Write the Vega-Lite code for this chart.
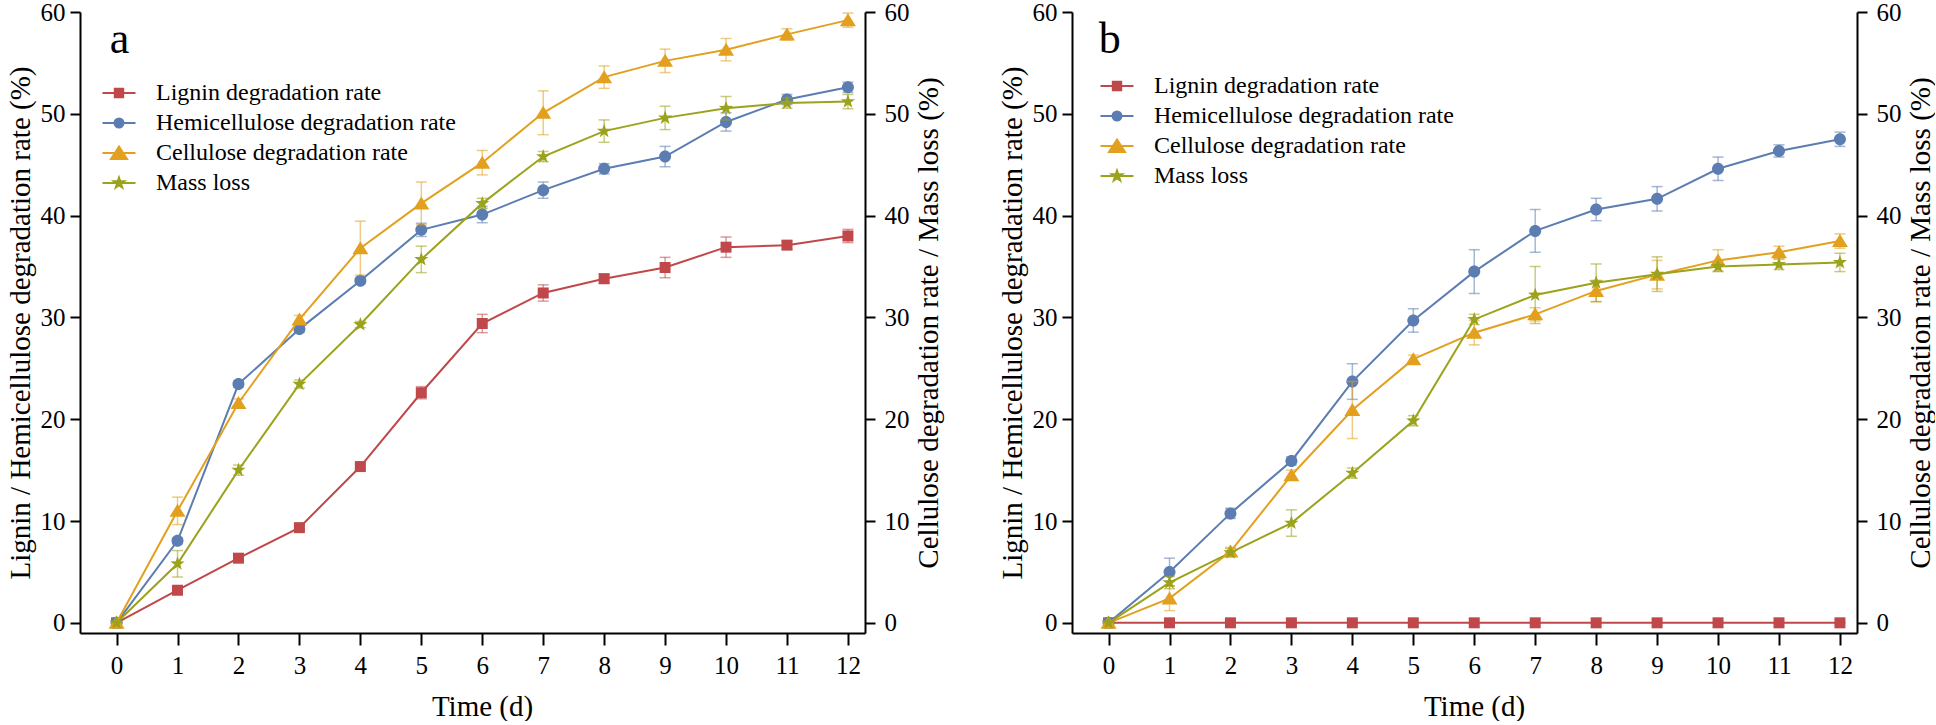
{
  "$schema": "https://vega.github.io/schema/vega-lite/v6.json",
  "autosize": {"type": "pad"},
  "padding": {"left": 6, "top": 0, "right": 0, "bottom": 0},
  "background": "white",
  "config": {
    "font": "Liberation Serif",
    "view": {"stroke": null},
    "axis": {"domainColor": "black", "domainWidth": 2, "tickColor": "black", "tickWidth": 2, "labelFont": "Liberation Serif", "labelFontSize": 25, "labelColor": "black", "titleFont": "Liberation Serif", "titleFontSize": 29, "titleFontWeight": "normal", "titleColor": "black", "grid": false, "labelFlush": false, "labelOverlap": false},
    "legend": {"labelFont": "Liberation Serif"},
    "text": {"font": "Liberation Serif"}
  },
  "datasets": {
    "d": [
      {"p": "a", "l": "a"},
      {"p": "b", "l": "b"},
      {"p": "a", "s": "Lignin degradation rate", "t": 0, "v": 0, "e": 0},
      {"p": "a", "s": "Lignin degradation rate", "t": 1, "v": 3.2, "e": 0.2},
      {"p": "a", "s": "Lignin degradation rate", "t": 2, "v": 6.35, "e": 0.2},
      {"p": "a", "s": "Lignin degradation rate", "t": 3, "v": 9.35, "e": 0.2},
      {"p": "a", "s": "Lignin degradation rate", "t": 4, "v": 15.35, "e": 0.25},
      {"p": "a", "s": "Lignin degradation rate", "t": 5, "v": 22.6, "e": 0.6},
      {"p": "a", "s": "Lignin degradation rate", "t": 6, "v": 29.4, "e": 0.9},
      {"p": "a", "s": "Lignin degradation rate", "t": 7, "v": 32.4, "e": 0.8},
      {"p": "a", "s": "Lignin degradation rate", "t": 8, "v": 33.8, "e": 0.45},
      {"p": "a", "s": "Lignin degradation rate", "t": 9, "v": 34.9, "e": 1.0},
      {"p": "a", "s": "Lignin degradation rate", "t": 10, "v": 36.9, "e": 1.0},
      {"p": "a", "s": "Lignin degradation rate", "t": 11, "v": 37.1, "e": 0.4},
      {"p": "a", "s": "Lignin degradation rate", "t": 12, "v": 38.0, "e": 0.65},
      {"p": "a", "s": "Hemicellulose degradation rate", "t": 0, "v": 0, "e": 0},
      {"p": "a", "s": "Hemicellulose degradation rate", "t": 1, "v": 8.05, "e": 0.3},
      {"p": "a", "s": "Hemicellulose degradation rate", "t": 2, "v": 23.45, "e": 0.3},
      {"p": "a", "s": "Hemicellulose degradation rate", "t": 3, "v": 28.85, "e": 0.3},
      {"p": "a", "s": "Hemicellulose degradation rate", "t": 4, "v": 33.6, "e": 0.3},
      {"p": "a", "s": "Hemicellulose degradation rate", "t": 5, "v": 38.6, "e": 0.65},
      {"p": "a", "s": "Hemicellulose degradation rate", "t": 6, "v": 40.1, "e": 0.8},
      {"p": "a", "s": "Hemicellulose degradation rate", "t": 7, "v": 42.5, "e": 0.8},
      {"p": "a", "s": "Hemicellulose degradation rate", "t": 8, "v": 44.6, "e": 0.5},
      {"p": "a", "s": "Hemicellulose degradation rate", "t": 9, "v": 45.8, "e": 1.0},
      {"p": "a", "s": "Hemicellulose degradation rate", "t": 10, "v": 49.2, "e": 0.9},
      {"p": "a", "s": "Hemicellulose degradation rate", "t": 11, "v": 51.4, "e": 0.5},
      {"p": "a", "s": "Hemicellulose degradation rate", "t": 12, "v": 52.6, "e": 0.5},
      {"p": "a", "s": "Cellulose degradation rate", "t": 0, "v": 0, "e": 0},
      {"p": "a", "s": "Cellulose degradation rate", "t": 1, "v": 11.0, "e": 1.35},
      {"p": "a", "s": "Cellulose degradation rate", "t": 2, "v": 21.6, "e": 0.4},
      {"p": "a", "s": "Cellulose degradation rate", "t": 3, "v": 29.8, "e": 0.4},
      {"p": "a", "s": "Cellulose degradation rate", "t": 4, "v": 36.8, "e": 2.65},
      {"p": "a", "s": "Cellulose degradation rate", "t": 5, "v": 41.2, "e": 2.1},
      {"p": "a", "s": "Cellulose degradation rate", "t": 6, "v": 45.2, "e": 1.2},
      {"p": "a", "s": "Cellulose degradation rate", "t": 7, "v": 50.1, "e": 2.15},
      {"p": "a", "s": "Cellulose degradation rate", "t": 8, "v": 53.6, "e": 1.1},
      {"p": "a", "s": "Cellulose degradation rate", "t": 9, "v": 55.2, "e": 1.15},
      {"p": "a", "s": "Cellulose degradation rate", "t": 10, "v": 56.3, "e": 1.1},
      {"p": "a", "s": "Cellulose degradation rate", "t": 11, "v": 57.8, "e": 0.55},
      {"p": "a", "s": "Cellulose degradation rate", "t": 12, "v": 59.2, "e": 0.7},
      {"p": "a", "s": "Mass loss", "t": 0, "v": 0, "e": 0},
      {"p": "a", "s": "Mass loss", "t": 1, "v": 5.8, "e": 1.3},
      {"p": "a", "s": "Mass loss", "t": 2, "v": 15.0, "e": 0.5},
      {"p": "a", "s": "Mass loss", "t": 3, "v": 23.45, "e": 0.4},
      {"p": "a", "s": "Mass loss", "t": 4, "v": 29.3, "e": 0.3},
      {"p": "a", "s": "Mass loss", "t": 5, "v": 35.7, "e": 1.3},
      {"p": "a", "s": "Mass loss", "t": 6, "v": 41.2, "e": 0.5},
      {"p": "a", "s": "Mass loss", "t": 7, "v": 45.8, "e": 0.5},
      {"p": "a", "s": "Mass loss", "t": 8, "v": 48.3, "e": 1.1},
      {"p": "a", "s": "Mass loss", "t": 9, "v": 49.6, "e": 1.15},
      {"p": "a", "s": "Mass loss", "t": 10, "v": 50.55, "e": 1.15},
      {"p": "a", "s": "Mass loss", "t": 11, "v": 51.05, "e": 0.5},
      {"p": "a", "s": "Mass loss", "t": 12, "v": 51.2, "e": 0.7},
      {"p": "b", "s": "Lignin degradation rate", "t": 0, "v": 0, "e": 0},
      {"p": "b", "s": "Lignin degradation rate", "t": 1, "v": 0, "e": 0},
      {"p": "b", "s": "Lignin degradation rate", "t": 2, "v": 0, "e": 0},
      {"p": "b", "s": "Lignin degradation rate", "t": 3, "v": 0, "e": 0},
      {"p": "b", "s": "Lignin degradation rate", "t": 4, "v": 0, "e": 0},
      {"p": "b", "s": "Lignin degradation rate", "t": 5, "v": 0, "e": 0},
      {"p": "b", "s": "Lignin degradation rate", "t": 6, "v": 0, "e": 0},
      {"p": "b", "s": "Lignin degradation rate", "t": 7, "v": 0, "e": 0},
      {"p": "b", "s": "Lignin degradation rate", "t": 8, "v": 0, "e": 0},
      {"p": "b", "s": "Lignin degradation rate", "t": 9, "v": 0, "e": 0},
      {"p": "b", "s": "Lignin degradation rate", "t": 10, "v": 0, "e": 0},
      {"p": "b", "s": "Lignin degradation rate", "t": 11, "v": 0, "e": 0},
      {"p": "b", "s": "Lignin degradation rate", "t": 12, "v": 0, "e": 0},
      {"p": "b", "s": "Hemicellulose degradation rate", "t": 0, "v": 0, "e": 0},
      {"p": "b", "s": "Hemicellulose degradation rate", "t": 1, "v": 5.0, "e": 1.35},
      {"p": "b", "s": "Hemicellulose degradation rate", "t": 2, "v": 10.75, "e": 0.5},
      {"p": "b", "s": "Hemicellulose degradation rate", "t": 3, "v": 15.9, "e": 0.4},
      {"p": "b", "s": "Hemicellulose degradation rate", "t": 4, "v": 23.7, "e": 1.75},
      {"p": "b", "s": "Hemicellulose degradation rate", "t": 5, "v": 29.7, "e": 1.15},
      {"p": "b", "s": "Hemicellulose degradation rate", "t": 6, "v": 34.5, "e": 2.15},
      {"p": "b", "s": "Hemicellulose degradation rate", "t": 7, "v": 38.5, "e": 2.1},
      {"p": "b", "s": "Hemicellulose degradation rate", "t": 8, "v": 40.6, "e": 1.1},
      {"p": "b", "s": "Hemicellulose degradation rate", "t": 9, "v": 41.65, "e": 1.2},
      {"p": "b", "s": "Hemicellulose degradation rate", "t": 10, "v": 44.6, "e": 1.15},
      {"p": "b", "s": "Hemicellulose degradation rate", "t": 11, "v": 46.35, "e": 0.6},
      {"p": "b", "s": "Hemicellulose degradation rate", "t": 12, "v": 47.5, "e": 0.7},
      {"p": "b", "s": "Cellulose degradation rate", "t": 0, "v": 0, "e": 0},
      {"p": "b", "s": "Cellulose degradation rate", "t": 1, "v": 2.4, "e": 1.2},
      {"p": "b", "s": "Cellulose degradation rate", "t": 2, "v": 7.0, "e": 0.4},
      {"p": "b", "s": "Cellulose degradation rate", "t": 3, "v": 14.5, "e": 0.5},
      {"p": "b", "s": "Cellulose degradation rate", "t": 4, "v": 20.9, "e": 2.8},
      {"p": "b", "s": "Cellulose degradation rate", "t": 5, "v": 25.9, "e": 0.4},
      {"p": "b", "s": "Cellulose degradation rate", "t": 6, "v": 28.5, "e": 1.2},
      {"p": "b", "s": "Cellulose degradation rate", "t": 7, "v": 30.3, "e": 0.65},
      {"p": "b", "s": "Cellulose degradation rate", "t": 8, "v": 32.6, "e": 1.05},
      {"p": "b", "s": "Cellulose degradation rate", "t": 9, "v": 34.2, "e": 1.4},
      {"p": "b", "s": "Cellulose degradation rate", "t": 10, "v": 35.6, "e": 1.05},
      {"p": "b", "s": "Cellulose degradation rate", "t": 11, "v": 36.4, "e": 0.6},
      {"p": "b", "s": "Cellulose degradation rate", "t": 12, "v": 37.5, "e": 0.7},
      {"p": "b", "s": "Mass loss", "t": 0, "v": 0, "e": 0},
      {"p": "b", "s": "Mass loss", "t": 1, "v": 3.95, "e": 0.6},
      {"p": "b", "s": "Mass loss", "t": 2, "v": 6.9, "e": 0.4},
      {"p": "b", "s": "Mass loss", "t": 3, "v": 9.8, "e": 1.3},
      {"p": "b", "s": "Mass loss", "t": 4, "v": 14.7, "e": 0.5},
      {"p": "b", "s": "Mass loss", "t": 5, "v": 19.85, "e": 0.5},
      {"p": "b", "s": "Mass loss", "t": 6, "v": 29.8, "e": 0.5},
      {"p": "b", "s": "Mass loss", "t": 7, "v": 32.2, "e": 2.8},
      {"p": "b", "s": "Mass loss", "t": 8, "v": 33.4, "e": 1.85},
      {"p": "b", "s": "Mass loss", "t": 9, "v": 34.25, "e": 1.7},
      {"p": "b", "s": "Mass loss", "t": 10, "v": 35.0, "e": 0.5},
      {"p": "b", "s": "Mass loss", "t": 11, "v": 35.2, "e": 0.5},
      {"p": "b", "s": "Mass loss", "t": 12, "v": 35.4, "e": 0.9}
    ]
  },
  "hconcat": [
    {
      "width": 785, "height": 621,
      "data": {"name": "d"},
      "transform": [{"filter": "datum.p === 'a'"}],
      "layer": [
        {
          "transform": [{"filter": "datum.s === 'Lignin degradation rate' || datum.s === 'Hemicellulose degradation rate'"}],
          "encoding": {
            "x": {"field": "t", "type": "quantitative", "scale": {"domain": [-0.6, 12.28], "nice": false, "zero": false}, "axis": {"values": [0,1,2,3,4,5,6,7,8,9,10,11,12], "tickSize": 12, "labelPadding": 8, "title": "Time (d)", "titlePadding": 14, "titleX": 402}},
            "y": {"field": "v", "type": "quantitative", "scale": {"domain": [-1, 60], "nice": false, "zero": false}, "axis": {"orient": "left", "values": [0,10,20,30,40,50,60], "tickSize": 10, "labelPadding": 5, "title": "Lignin / Hemicellulose degradation rate (%)", "titlePadding": 5}},
            "color": {"field": "s", "type": "nominal", "scale": {"domain": ["Lignin degradation rate", "Hemicellulose degradation rate", "Cellulose degradation rate", "Mass loss"], "range": ["#C0484A", "#5B7DB1", "#E2A01E", "#9BA21B"]}, "legend": null}
          },
          "layer": [
            {"mark": {"type": "errorbar", "ticks": {"size": 11, "thickness": 1.5, "opacity": 0.55}, "rule": {"strokeWidth": 1.5, "opacity": 0.55}}, "encoding": {"yError": {"field": "e"}}},
            {"mark": {"type": "line", "strokeWidth": 2}, "encoding": {}},
            {"mark": {"type": "point", "filled": true, "size": 4, "opacity": 1}, "encoding": {"shape": {"field": "s", "type": "nominal", "scale": {"domain": ["Lignin degradation rate", "Hemicellulose degradation rate", "Cellulose degradation rate", "Mass loss"], "range": ["M-5.5,-5.5H5.5V5.5H-5.5Z", "M6,0A6,6,0,1,1,-6,0A6,6,0,1,1,6,0Z", "M0,-7L8,6L-8,6Z", "M0,-7.5L1.763,-2.427L7.133,-2.318L2.853,0.927L4.408,6.068L0,3L-4.408,6.068L-2.853,0.927L-7.133,-2.318L-1.763,-2.427Z"]}, "legend": null}}}
          ]
        },
        {
          "transform": [{"filter": "datum.s === 'Cellulose degradation rate' || datum.s === 'Mass loss'"}],
          "encoding": {
            "x": {"field": "t", "type": "quantitative", "scale": {"domain": [-0.6, 12.28], "nice": false, "zero": false}, "axis": {"values": [0,1,2,3,4,5,6,7,8,9,10,11,12], "tickSize": 12, "labelPadding": 8, "title": "Time (d)", "titlePadding": 14, "titleX": 402}},
            "y": {"field": "v", "type": "quantitative", "scale": {"domain": [-1, 60], "nice": false, "zero": false}, "axis": {"orient": "right", "values": [0,10,20,30,40,50,60], "tickSize": 10, "labelPadding": 9, "title": "Cellulose degradation rate / Mass loss (%)", "titlePadding": 5, "titleAngle": 270, "titleBaseline": "top"}},
            "color": {"field": "s", "type": "nominal", "scale": {"domain": ["Lignin degradation rate", "Hemicellulose degradation rate", "Cellulose degradation rate", "Mass loss"], "range": ["#C0484A", "#5B7DB1", "#E2A01E", "#9BA21B"]}, "legend": null}
          },
          "layer": [
            {"mark": {"type": "errorbar", "ticks": {"size": 11, "thickness": 1.5, "opacity": 0.55}, "rule": {"strokeWidth": 1.5, "opacity": 0.55}}, "encoding": {"yError": {"field": "e"}}},
            {"mark": {"type": "line", "strokeWidth": 2}, "encoding": {}},
            {"mark": {"type": "point", "filled": true, "size": 4, "opacity": 1}, "encoding": {"shape": {"field": "s", "type": "nominal", "scale": {"domain": ["Lignin degradation rate", "Hemicellulose degradation rate", "Cellulose degradation rate", "Mass loss"], "range": ["M-5.5,-5.5H5.5V5.5H-5.5Z", "M6,0A6,6,0,1,1,-6,0A6,6,0,1,1,6,0Z", "M0,-7L8,6L-8,6Z", "M0,-7.5L1.763,-2.427L7.133,-2.318L2.853,0.927L4.408,6.068L0,3L-4.408,6.068L-2.853,0.927L-7.133,-2.318L-1.763,-2.427Z"]}, "legend": null}}}
          ]
        },
        {
          "transform": [{"filter": "isValid(datum.s)"}],
          "mark": {"type": "point", "filled": true, "size": 4, "opacity": 0},
          "encoding": {
            "x": {"field": "t", "type": "quantitative", "scale": {"domain": [-0.6, 12.28], "nice": false, "zero": false}, "axis": {"values": [0,1,2,3,4,5,6,7,8,9,10,11,12], "tickSize": 12, "labelPadding": 8, "title": "Time (d)", "titlePadding": 14, "titleX": 402}},
            "y": {"field": "v", "type": "quantitative", "scale": {"domain": [-1, 60], "nice": false, "zero": false}, "axis": null},
            "fill": {"field": "s", "type": "nominal", "scale": {"domain": ["Lignin degradation rate", "Hemicellulose degradation rate", "Cellulose degradation rate", "Mass loss"], "range": ["#C0484A", "#5B7DB1", "#E2A01E", "#9BA21B"]},
              "legend": {"orient": "none", "legendX": 27, "legendY": 69, "title": null, "padding": 0, "labelFont": "Liberation Serif", "labelFontSize": 24, "labelColor": "black", "labelLimit": 0, "symbolSize": 4, "symbolStrokeWidth": 2, "symbolOpacity": 1, "rowPadding": 6, "labelOffset": 25}},
            "stroke": {"field": "s", "type": "nominal", "scale": {"domain": ["Lignin degradation rate", "Hemicellulose degradation rate", "Cellulose degradation rate", "Mass loss"], "range": ["#C0484A", "#5B7DB1", "#E2A01E", "#9BA21B"]},
              "legend": {"orient": "none", "legendX": 27, "legendY": 69, "title": null, "padding": 0, "labelFont": "Liberation Serif", "labelFontSize": 24, "labelColor": "black", "labelLimit": 0, "symbolSize": 4, "symbolStrokeWidth": 2, "symbolOpacity": 1, "rowPadding": 6, "labelOffset": 25}},
            "shape": {"field": "s", "type": "nominal", "scale": {"domain": ["Lignin degradation rate", "Hemicellulose degradation rate", "Cellulose degradation rate", "Mass loss"], "range": ["M-16.5,0H16.5M-4.2,-4.2H4.2V4.2H-4.2Z", "M-16.5,0H16.5M4.5,0A4.5,4.5,0,1,1,-4.5,0A4.5,4.5,0,1,1,4.5,0Z", "M-16.5,0H16.5M0,-6.5L8,6L-8,6Z", "M-16.5,0H16.5M0,-5.5L1.293,-1.78L5.231,-1.7L2.092,0.68L3.233,4.45L0,2.2L-3.233,4.45L-2.092,0.68L-5.231,-1.7L-1.293,-1.78Z"]},
              "legend": {"orient": "none", "legendX": 27, "legendY": 69, "title": null, "padding": 0, "labelFont": "Liberation Serif", "labelFontSize": 24, "labelColor": "black", "labelLimit": 0, "symbolSize": 4, "symbolStrokeWidth": 2, "symbolOpacity": 1, "rowPadding": 6, "labelOffset": 25}}
          }
        },
        {
          "transform": [{"filter": "isValid(datum.l)"}],
          "mark": {"type": "text", "font": "Liberation Serif", "fontSize": 44, "align": "left", "baseline": "alphabetic", "color": "black"},
          "encoding": {
            "x": {"datum": -0.11, "type": "quantitative", "scale": {"domain": [-0.6, 12.28], "nice": false, "zero": false}, "axis": {"values": [0,1,2,3,4,5,6,7,8,9,10,11,12], "tickSize": 12, "labelPadding": 8, "title": "Time (d)", "titlePadding": 14, "titleX": 402}},
            "y": {"datum": 56, "type": "quantitative", "scale": {"domain": [-1, 60], "nice": false, "zero": false}, "axis": null},
            "text": {"field": "l", "type": "nominal"}
          }
        }
      ],
      "resolve": {"scale": {"y": "independent", "shape": "independent", "fill": "independent", "stroke": "independent"}}
    },
    {
      "width": 785, "height": 621,
      "data": {"name": "d"},
      "transform": [{"filter": "datum.p === 'b'"}],
      "layer": [
        {
          "transform": [{"filter": "datum.s === 'Lignin degradation rate' || datum.s === 'Hemicellulose degradation rate'"}],
          "encoding": {
            "x": {"field": "t", "type": "quantitative", "scale": {"domain": [-0.6, 12.28], "nice": false, "zero": false}, "axis": {"values": [0,1,2,3,4,5,6,7,8,9,10,11,12], "tickSize": 12, "labelPadding": 8, "title": "Time (d)", "titlePadding": 14, "titleX": 402}},
            "y": {"field": "v", "type": "quantitative", "scale": {"domain": [-1, 60], "nice": false, "zero": false}, "axis": {"orient": "left", "values": [0,10,20,30,40,50,60], "tickSize": 10, "labelPadding": 5, "title": "Lignin / Hemicellulose degradation rate (%)", "titlePadding": 5}},
            "color": {"field": "s", "type": "nominal", "scale": {"domain": ["Lignin degradation rate", "Hemicellulose degradation rate", "Cellulose degradation rate", "Mass loss"], "range": ["#C0484A", "#5B7DB1", "#E2A01E", "#9BA21B"]}, "legend": null}
          },
          "layer": [
            {"mark": {"type": "errorbar", "ticks": {"size": 11, "thickness": 1.5, "opacity": 0.55}, "rule": {"strokeWidth": 1.5, "opacity": 0.55}}, "encoding": {"yError": {"field": "e"}}},
            {"mark": {"type": "line", "strokeWidth": 2}, "encoding": {}},
            {"mark": {"type": "point", "filled": true, "size": 4, "opacity": 1}, "encoding": {"shape": {"field": "s", "type": "nominal", "scale": {"domain": ["Lignin degradation rate", "Hemicellulose degradation rate", "Cellulose degradation rate", "Mass loss"], "range": ["M-5.5,-5.5H5.5V5.5H-5.5Z", "M6,0A6,6,0,1,1,-6,0A6,6,0,1,1,6,0Z", "M0,-7L8,6L-8,6Z", "M0,-7.5L1.763,-2.427L7.133,-2.318L2.853,0.927L4.408,6.068L0,3L-4.408,6.068L-2.853,0.927L-7.133,-2.318L-1.763,-2.427Z"]}, "legend": null}}}
          ]
        },
        {
          "transform": [{"filter": "datum.s === 'Cellulose degradation rate' || datum.s === 'Mass loss'"}],
          "encoding": {
            "x": {"field": "t", "type": "quantitative", "scale": {"domain": [-0.6, 12.28], "nice": false, "zero": false}, "axis": {"values": [0,1,2,3,4,5,6,7,8,9,10,11,12], "tickSize": 12, "labelPadding": 8, "title": "Time (d)", "titlePadding": 14, "titleX": 402}},
            "y": {"field": "v", "type": "quantitative", "scale": {"domain": [-1, 60], "nice": false, "zero": false}, "axis": {"orient": "right", "values": [0,10,20,30,40,50,60], "tickSize": 10, "labelPadding": 9, "title": "Cellulose degradation rate / Mass loss (%)", "titlePadding": 5, "titleAngle": 270, "titleBaseline": "top"}},
            "color": {"field": "s", "type": "nominal", "scale": {"domain": ["Lignin degradation rate", "Hemicellulose degradation rate", "Cellulose degradation rate", "Mass loss"], "range": ["#C0484A", "#5B7DB1", "#E2A01E", "#9BA21B"]}, "legend": null}
          },
          "layer": [
            {"mark": {"type": "errorbar", "ticks": {"size": 11, "thickness": 1.5, "opacity": 0.55}, "rule": {"strokeWidth": 1.5, "opacity": 0.55}}, "encoding": {"yError": {"field": "e"}}},
            {"mark": {"type": "line", "strokeWidth": 2}, "encoding": {}},
            {"mark": {"type": "point", "filled": true, "size": 4, "opacity": 1}, "encoding": {"shape": {"field": "s", "type": "nominal", "scale": {"domain": ["Lignin degradation rate", "Hemicellulose degradation rate", "Cellulose degradation rate", "Mass loss"], "range": ["M-5.5,-5.5H5.5V5.5H-5.5Z", "M6,0A6,6,0,1,1,-6,0A6,6,0,1,1,6,0Z", "M0,-7L8,6L-8,6Z", "M0,-7.5L1.763,-2.427L7.133,-2.318L2.853,0.927L4.408,6.068L0,3L-4.408,6.068L-2.853,0.927L-7.133,-2.318L-1.763,-2.427Z"]}, "legend": null}}}
          ]
        },
        {
          "transform": [{"filter": "isValid(datum.s)"}],
          "mark": {"type": "point", "filled": true, "size": 4, "opacity": 0},
          "encoding": {
            "x": {"field": "t", "type": "quantitative", "scale": {"domain": [-0.6, 12.28], "nice": false, "zero": false}, "axis": {"values": [0,1,2,3,4,5,6,7,8,9,10,11,12], "tickSize": 12, "labelPadding": 8, "title": "Time (d)", "titlePadding": 14, "titleX": 402}},
            "y": {"field": "v", "type": "quantitative", "scale": {"domain": [-1, 60], "nice": false, "zero": false}, "axis": null},
            "fill": {"field": "s", "type": "nominal", "scale": {"domain": ["Lignin degradation rate", "Hemicellulose degradation rate", "Cellulose degradation rate", "Mass loss"], "range": ["#C0484A", "#5B7DB1", "#E2A01E", "#9BA21B"]},
              "legend": {"orient": "none", "legendX": 33, "legendY": 62, "title": null, "padding": 0, "labelFont": "Liberation Serif", "labelFontSize": 24, "labelColor": "black", "labelLimit": 0, "symbolSize": 4, "symbolStrokeWidth": 2, "symbolOpacity": 1, "rowPadding": 6, "labelOffset": 25}},
            "stroke": {"field": "s", "type": "nominal", "scale": {"domain": ["Lignin degradation rate", "Hemicellulose degradation rate", "Cellulose degradation rate", "Mass loss"], "range": ["#C0484A", "#5B7DB1", "#E2A01E", "#9BA21B"]},
              "legend": {"orient": "none", "legendX": 33, "legendY": 62, "title": null, "padding": 0, "labelFont": "Liberation Serif", "labelFontSize": 24, "labelColor": "black", "labelLimit": 0, "symbolSize": 4, "symbolStrokeWidth": 2, "symbolOpacity": 1, "rowPadding": 6, "labelOffset": 25}},
            "shape": {"field": "s", "type": "nominal", "scale": {"domain": ["Lignin degradation rate", "Hemicellulose degradation rate", "Cellulose degradation rate", "Mass loss"], "range": ["M-16.5,0H16.5M-4.2,-4.2H4.2V4.2H-4.2Z", "M-16.5,0H16.5M4.5,0A4.5,4.5,0,1,1,-4.5,0A4.5,4.5,0,1,1,4.5,0Z", "M-16.5,0H16.5M0,-6.5L8,6L-8,6Z", "M-16.5,0H16.5M0,-5.5L1.293,-1.78L5.231,-1.7L2.092,0.68L3.233,4.45L0,2.2L-3.233,4.45L-2.092,0.68L-5.231,-1.7L-1.293,-1.78Z"]},
              "legend": {"orient": "none", "legendX": 33, "legendY": 62, "title": null, "padding": 0, "labelFont": "Liberation Serif", "labelFontSize": 24, "labelColor": "black", "labelLimit": 0, "symbolSize": 4, "symbolStrokeWidth": 2, "symbolOpacity": 1, "rowPadding": 6, "labelOffset": 25}}
          }
        },
        {
          "transform": [{"filter": "isValid(datum.l)"}],
          "mark": {"type": "text", "font": "Liberation Serif", "fontSize": 44, "align": "left", "baseline": "alphabetic", "color": "black"},
          "encoding": {
            "x": {"datum": -0.16, "type": "quantitative", "scale": {"domain": [-0.6, 12.28], "nice": false, "zero": false}, "axis": {"values": [0,1,2,3,4,5,6,7,8,9,10,11,12], "tickSize": 12, "labelPadding": 8, "title": "Time (d)", "titlePadding": 14, "titleX": 402}},
            "y": {"datum": 56, "type": "quantitative", "scale": {"domain": [-1, 60], "nice": false, "zero": false}, "axis": null},
            "text": {"field": "l", "type": "nominal"}
          }
        }
      ],
      "resolve": {"scale": {"y": "independent", "shape": "independent", "fill": "independent", "stroke": "independent"}}
    }
  ],
  "spacing": 55,
  "resolve": {"scale": {"color": "independent"}}
}
